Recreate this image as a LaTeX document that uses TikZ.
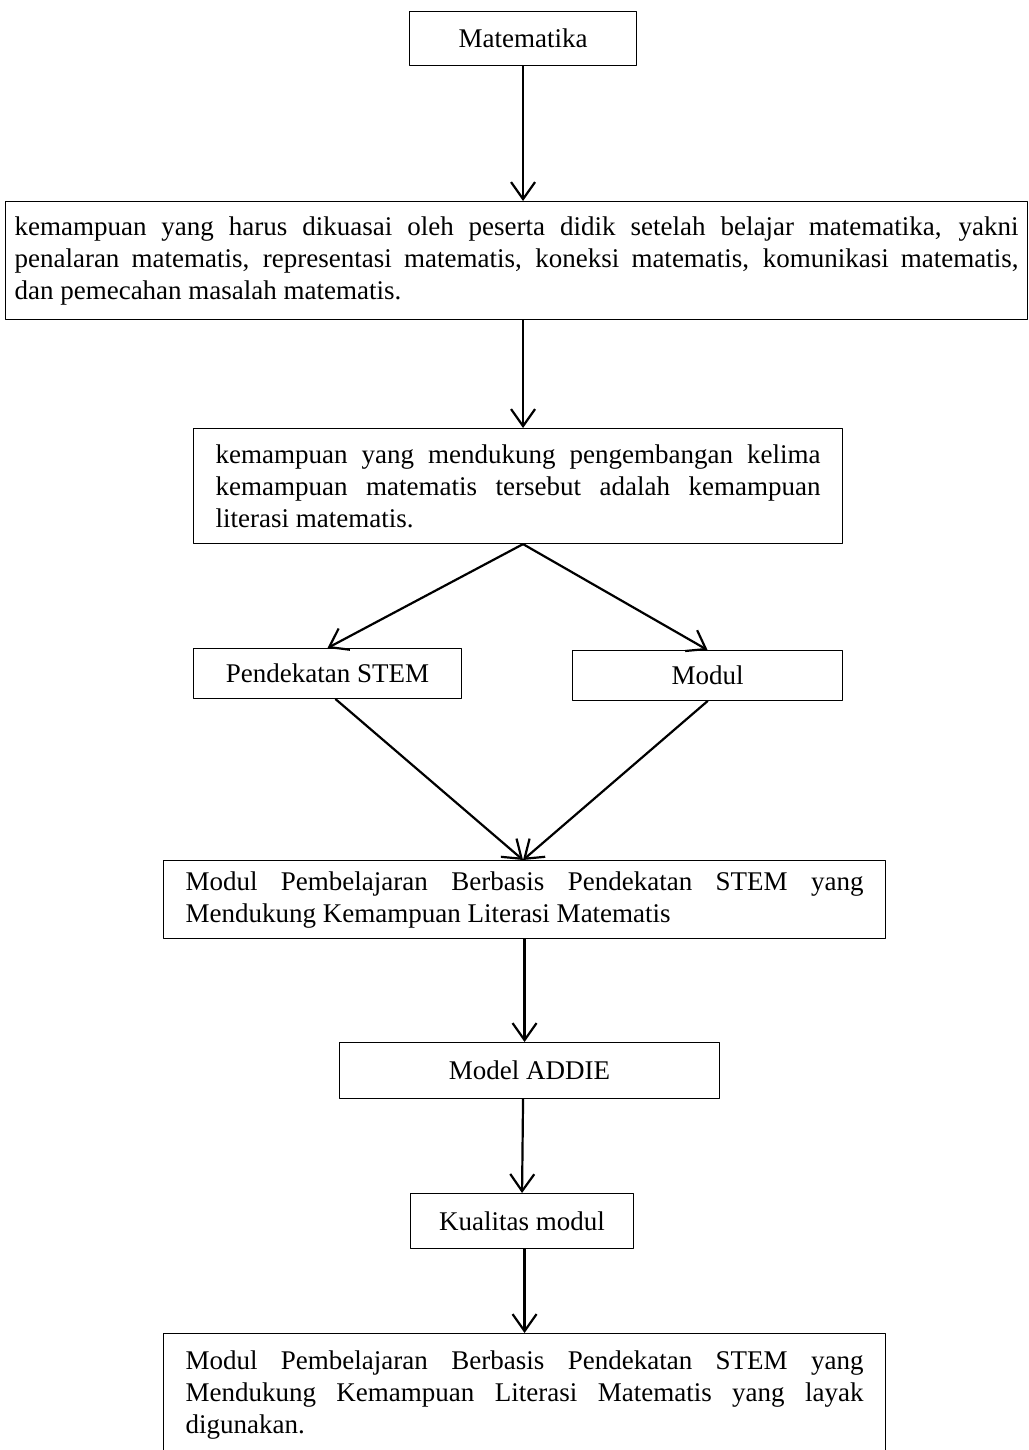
\documentclass[tikz,border=0pt]{standalone}
\usepackage{fontspec}
\setmainfont{Liberation Serif}
\usetikzlibrary{arrows.meta}

\begin{document}
\begin{tikzpicture}[x=1pt,y=-1pt,line cap=round,line join=round,
  >={Straight Barb[length=17pt,width=24pt]},
  kotak/.style={draw,line width=1.1pt,anchor=north west,font=\fontsize{27}{32}\selectfont,inner ysep=0pt},
  teks/.style={kotak,align=justify,inner xsep=22pt},
  panah/.style={->,line width=2.2pt}]
\useasboundingbox (0,0) rectangle (1028,1450);
\clip (0,0) rectangle (1028,1450);
\node[kotak,minimum width=227,minimum height=54] (mat) at (409,11) {Matematika};
\node[teks,text width=1004,inner xsep=9pt,minimum height=118] (kemampuan) at (5,201)
  {kemampuan yang harus dikuasai oleh peserta didik setelah belajar matematika, yakni\linebreak
   penalaran matematis, representasi matematis, koneksi matematis, komunikasi matematis,\linebreak
   dan pemecahan masalah matematis.};
\node[teks,text width=605,minimum height=115] (dukung) at (193,428)
  {kemampuan yang mendukung pengembangan kelima\linebreak
   kemampuan matematis tersebut adalah kemampuan\linebreak
   literasi matematis.};
\node[kotak,minimum width=268,minimum height=50] (stem) at (193,648) {Pendekatan STEM};
\node[kotak,minimum width=270,minimum height=50] (modul) at (572,650) {Modul};
\node[teks,text width=678,minimum height=78] (modstem) at (163,860)
  {Modul Pembelajaran Berbasis Pendekatan STEM yang\linebreak
   Mendukung Kemampuan Literasi Matematis};
\node[kotak,minimum width=380,minimum height=56] (addie) at (339,1042) {Model ADDIE};
\node[kotak,minimum width=223,minimum height=55] (kualitas) at (410,1193) {Kualitas modul};
\node[teks,text width=678,minimum height=122] (layak) at (163,1333)
  {Modul Pembelajaran Berbasis Pendekatan STEM yang\linebreak
   Mendukung Kemampuan Literasi Matematis yang layak\linebreak
   digunakan.};
\coordinate (temu) at (modstem.north -| mat.south);
\draw[panah] (mat.south) -- (mat.south |- kemampuan.north);
\draw[panah] (kemampuan.south -| mat.south) -- (dukung.north -| mat.south);
\draw[panah] (dukung.south -| mat.south) -- (stem.north);
\draw[panah] (dukung.south -| mat.south) -- (modul.north);
\draw[panah] ([xshift=8pt]stem.south) -- (temu);
\draw[panah] (modul.south) -- (temu);
\draw[panah] (modstem.south) -- (modstem.south |- addie.north);
\draw[panah] (addie.south -| mat.south) -- (kualitas.north);
\draw[panah] (layak.north |- kualitas.south) -- (layak.north);
\end{tikzpicture}
\end{document}
